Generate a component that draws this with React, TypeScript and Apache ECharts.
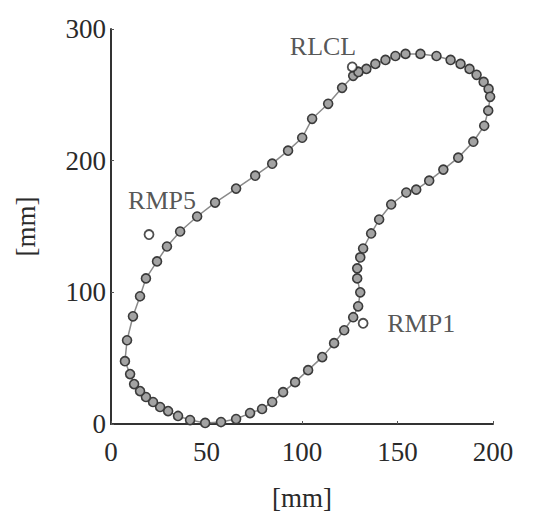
import React, { useEffect, useRef } from "react";
import * as echarts from "echarts";

const contourX: number[] = [
  129.5, 133.7, 138.4, 143.7, 148.9, 154.2, 162.0, 170.4, 177.8, 183.0,
  187.7, 191.4, 195.1, 197.7, 198.5, 197.5, 195.4, 189.7, 181.8, 174.0,
  166.6, 159.8, 154.6, 146.7, 140.4, 136.2, 132.0, 130.5, 128.9, 128.9,
  130.5, 129.4, 126.8, 122.1, 116.8, 110.6, 103.2, 96.4, 90.1, 84.4,
  79.1, 72.8, 65.5, 57.6, 49.3, 41.4, 35.1, 29.9, 25.7, 22.0,
  18.3, 15.2, 12.1, 10.0, 7.3, 8.4, 11.5, 15.2, 18.3, 24.1,
  29.3, 36.2, 45.1, 54.5, 65.5, 75.5, 84.4, 92.7, 100.1, 105.3,
  113.7, 121.0, 126.8, 129.5,
];
const contourY: number[] = [
  267.4, 269.7, 273.5, 276.5, 279.5, 281.1, 281.1, 279.5, 276.5, 273.5,
  269.7, 265.2, 259.8, 254.5, 248.5, 238.0, 226.5, 214.4, 202.3, 193.2,
  184.8, 178.0, 175.8, 166.7, 155.3, 144.7, 133.3, 126.5, 118.2, 110.6,
  100.0, 89.4, 81.1, 71.2, 61.4, 50.8, 40.9, 31.8, 24.2, 16.7,
  11.4, 8.3, 3.8, 1.5, 0.8, 3.0, 6.1, 9.8, 12.9, 16.7,
  20.5, 25.0, 30.3, 37.9, 47.7, 63.6, 81.8, 97.0, 110.6, 123.5,
  134.8, 146.2, 157.6, 168.2, 178.8, 188.6, 197.7, 207.6, 217.4, 231.8,
  243.2, 255.3, 264.4, 267.4,
];

const landmarkNames: string[] = ["RLCL", "RMP5", "RMP1"];
const landmarkX: number[] = [126.3, 19.9, 132.0];
const landmarkY: number[] = [271.2, 143.9, 76.5];
const labelX: number[] = [111, 26.7, 162.4];
const labelY: number[] = [287, 169.7, 76.5];

const xTicks = { min: 0, max: 200, interval: 50 };
const yTicks = { min: 0, max: 300, interval: 100 };

const FONT = "Liberation Serif";
const TEXT = "#2a2a2a";

export default function App() {
  const ref = useRef<HTMLDivElement>(null);
  useEffect(() => {
    document.body.style.margin = "0";
    if (!ref.current) return;
    const chart = echarts.init(ref.current, undefined, { renderer: "svg" });
    const contour = contourX.map((x, i) => [x, contourY[i]]);
    const marks = landmarkX.map((x, i) => [x, landmarkY[i]]);
    const labels = labelX.map((x, i) => ({ value: [x, labelY[i]], name: landmarkNames[i] }));
    const axisCommon = {
      type: "value" as const,
      splitLine: { show: false },
      axisLine: { show: true, lineStyle: { color: "#333", width: 2 } },
      axisTick: { show: true, inside: true, length: 3, lineStyle: { color: "#555", width: 1 } },
      nameTextStyle: { fontFamily: FONT, fontSize: 27, color: TEXT },
    };
    chart.setOption({
      animation: false,
      backgroundColor: "#fff",
      grid: { left: 111, right: 41, top: 29, bottom: 94, containLabel: false },
      xAxis: {
        ...axisCommon,
        ...xTicks,
        name: "[mm]",
        nameLocation: "middle",
        nameGap: 60,
        axisLabel: { fontFamily: FONT, fontSize: 27, color: TEXT, margin: 14 },
      },
      yAxis: {
        ...axisCommon,
        ...yTicks,
        name: "[mm]",
        nameLocation: "middle",
        nameGap: 72,
        nameRotate: 90,
        axisLabel: { fontFamily: FONT, fontSize: 27, color: TEXT, margin: 5 },
      },
      series: [
        {
          type: "line",
          data: contour,
          symbol: "circle",
          symbolSize: 9,
          showAllSymbol: true,
          lineStyle: { color: "#8a8a8a", width: 1.5 },
          itemStyle: { color: "#a3a3a3", borderColor: "#3a3a3a", borderWidth: 1.6 },
          z: 2,
        },
        {
          type: "scatter",
          data: marks,
          symbol: "circle",
          symbolSize: 9,
          itemStyle: { color: "#fff", borderColor: "#222", borderWidth: 1.8 },
          z: 3,
        },
        {
          type: "scatter",
          data: labels,
          symbolSize: 0,
          label: {
            show: true,
            position: "inside",
            formatter: (p: any) => p.name,
            fontFamily: FONT,
            fontSize: 26,
            color: TEXT,
          },
          z: 4,
        },
      ],
    });
    return () => chart.dispose();
  }, []);
  return <div ref={ref} style={{ width: 534, height: 518 }} />;
}
